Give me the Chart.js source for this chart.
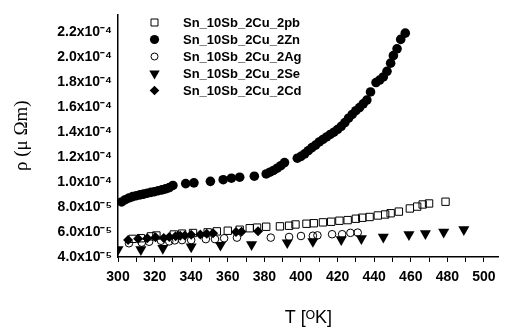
<!DOCTYPE html>
<html>
<head>
<meta charset="utf-8">
<script src="https://cdn.jsdelivr.net/npm/chart.js@4/dist/chart.umd.min.js"></script>
<style>
  html, body { margin: 0; padding: 0; background: #fff; }
  #wrap { width: 505px; height: 331px; position: relative; }
</style>
</head>
<body>
<div id="wrap"><canvas id="c" width="505" height="331"></canvas></div>
<script>
// ---- Data ----
const seriesNames = ['Sn_10Sb_2Cu_2pb', 'Sn_10Sb_2Cu_2Zn', 'Sn_10Sb_2Cu_2Ag', 'Sn_10Sb_2Cu_2Se', 'Sn_10Sb_2Cu_2Cd'];

const pbT = [308, 312.5, 318, 321, 330.5, 335, 341, 349, 354, 360, 366.5, 372, 376, 381, 388.5, 393.5, 397, 403, 407, 412, 416.5, 421, 425.5, 430, 433.5, 437.5, 442, 446, 449, 453.5, 459.5, 463.5, 466.5, 470, 479];
const pbR = [5.45e-5, 5.50e-5, 5.65e-5, 5.72e-5, 5.80e-5, 5.87e-5, 5.92e-5, 5.97e-5, 6.05e-5, 6.10e-5, 6.18e-5, 6.30e-5, 6.35e-5, 6.42e-5, 6.45e-5, 6.50e-5, 6.60e-5, 6.66e-5, 6.70e-5, 6.77e-5, 6.82e-5, 6.90e-5, 6.95e-5, 7.06e-5, 7.14e-5, 7.20e-5, 7.32e-5, 7.40e-5, 7.50e-5, 7.63e-5, 7.88e-5, 8.03e-5, 8.20e-5, 8.28e-5, 8.42e-5];

const znT = [302, 304, 306, 308, 310, 312, 314, 316, 318, 320, 322, 324, 326, 328, 330, 337, 341.5, 350.5, 357.5, 362, 366.5, 374.5, 381, 383, 385, 387, 389, 391, 398, 400, 402, 404, 406, 408, 410, 412, 414, 416, 418, 420, 422, 424, 426, 428, 430, 432, 434, 436, 438, 441, 443, 445, 447, 449, 450.5, 452.5, 454.5, 457];
const znR = [8.40e-5, 8.58e-5, 8.72e-5, 8.83e-5, 8.90e-5, 8.97e-5, 9.03e-5, 9.10e-5, 9.17e-5, 9.22e-5, 9.30e-5, 9.37e-5, 9.45e-5, 9.55e-5, 9.72e-5, 9.87e-5, 9.93e-5, 10.05e-5, 10.18e-5, 10.30e-5, 10.38e-5, 10.46e-5, 10.64e-5, 10.78e-5, 10.92e-5, 11.10e-5, 11.30e-5, 11.55e-5, 11.90e-5, 12.05e-5, 12.25e-5, 12.50e-5, 12.75e-5, 12.95e-5, 13.20e-5, 13.40e-5, 13.60e-5, 13.80e-5, 13.98e-5, 14.20e-5, 14.45e-5, 14.75e-5, 15.10e-5, 15.40e-5, 15.70e-5, 15.95e-5, 16.25e-5, 16.55e-5, 17.20e-5, 17.95e-5, 18.15e-5, 18.40e-5, 18.85e-5, 19.50e-5, 20.10e-5, 20.65e-5, 21.40e-5, 21.90e-5];

const agT = [306, 313, 317, 323.5, 328, 331, 335, 340, 348, 353, 358, 365, 383.5, 393.5, 400, 406.5, 409, 417, 422.5, 427, 431];
const agR = [5.10e-5, 5.15e-5, 5.22e-5, 5.30e-5, 5.25e-5, 5.33e-5, 5.35e-5, 5.35e-5, 5.43e-5, 5.43e-5, 5.50e-5, 5.55e-5, 5.55e-5, 5.60e-5, 5.68e-5, 5.70e-5, 5.73e-5, 5.82e-5, 5.82e-5, 5.93e-5, 5.95e-5];

const seT = [300, 312.5, 324.5, 340, 356, 373, 392.5, 406.5, 422, 433, 445, 459, 468, 478, 489];
const seR = [4.60e-5, 4.60e-5, 4.70e-5, 4.82e-5, 4.95e-5, 5.00e-5, 5.15e-5, 5.25e-5, 5.40e-5, 5.48e-5, 5.60e-5, 5.80e-5, 5.88e-5, 6.00e-5, 6.20e-5];

const cdT = [305.5, 311, 316, 320.5, 325, 328, 331.5, 334, 336.5, 340, 345, 348.5, 352, 364.5, 367.5, 376.5];
const cdR = [5.35e-5, 5.45e-5, 5.50e-5, 5.58e-5, 5.52e-5, 5.60e-5, 5.65e-5, 5.70e-5, 5.72e-5, 5.78e-5, 5.80e-5, 5.85e-5, 5.90e-5, 6.00e-5, 6.02e-5, 6.05e-5];

const xTickValues = [300, 310, 320, 330, 340, 350, 360, 370, 380, 390, 400, 410, 420, 430, 440, 450, 460, 470, 480, 490, 500];
const xTickLabels = ['300', '', '320', '', '340', '', '360', '', '380', '', '400', '', '420', '', '440', '', '460', '', '480', '', '500'];
const yTickValues = [4.0e-5, 6.0e-5, 8.0e-5, 1.0e-4, 1.2e-4, 1.4e-4, 1.6e-4, 1.8e-4, 2.0e-4, 2.2e-4];
const yTickLabels = ['4.0x10⁻⁵', '6.0x10⁻⁵', '8.0x10⁻⁵', '1.0x10⁻⁴', '1.2x10⁻⁴', '1.4x10⁻⁴', '1.6x10⁻⁴', '1.8x10⁻⁴', '2.0x10⁻⁴', '2.2x10⁻⁴'];
const xTitle = 'T [ᴼK]';
const yTitle = 'ρ (μ Ωm)';

// ---- Build chart ----
const pts = (xs, ys) => xs.map((x, i) => ({ x: x, y: ys[i] }));

const styles = [
  { pointStyle: 'rect', radius: 5.2, bg: 'rgba(0,0,0,0)', border: '#000', bw: 1, rot: 0 },
  { pointStyle: 'circle', radius: 4.8, bg: '#000', border: '#000', bw: 0, rot: 0 },
  { pointStyle: 'circle', radius: 3.8, bg: 'rgba(0,0,0,0)', border: '#000', bw: 1, rot: 0 },
  { pointStyle: 'triangle', radius: 6.4, bg: '#000', border: '#000', bw: 0, rot: 180 },
  { pointStyle: 'rectRot', radius: 5, bg: '#000', border: '#000', bw: 0, rot: 0 }
];
const seriesData = [pts(pbT, pbR), pts(znT, znR), pts(agT, agR), pts(seT, seR), pts(cdT, cdR)];

const datasets = seriesNames.map((name, i) => ({
  label: name,
  data: seriesData[i],
  showLine: false,
  pointStyle: styles[i].pointStyle,
  pointRadius: styles[i].radius,
  pointRotation: styles[i].rot,
  pointBackgroundColor: styles[i].bg,
  pointBorderColor: styles[i].border,
  pointBorderWidth: styles[i].bw,
  backgroundColor: styles[i].bg,
  borderColor: styles[i].border
}));

const legendInPlot = {
  id: 'legendInPlot',
  afterDraw(chart) {
    const ctx = chart.ctx;
    ctx.save();
    const mx = 154.5, tx = 183, y0 = 22.5, dy = 17;
    chart.data.datasets.forEach((ds, i) => {
      const y = y0 + i * dy;
      const st = styles[i];
      ctx.beginPath();
      ctx.lineWidth = 1;
      ctx.strokeStyle = '#000';
      ctx.fillStyle = '#000';
      if (st.pointStyle === 'rect') {
        ctx.rect(mx - 3.5, y - 3.5, 7, 7);
        ctx.fillStyle = '#fff'; ctx.fill(); ctx.stroke();
      } else if (st.pointStyle === 'circle' && st.bw === 0) {
        ctx.arc(mx, y, 4.6, 0, Math.PI * 2); ctx.fill();
      } else if (st.pointStyle === 'circle') {
        ctx.arc(mx, y, 3.5, 0, Math.PI * 2); ctx.fillStyle = '#fff'; ctx.fill(); ctx.stroke();
      } else if (st.pointStyle === 'triangle') {
        const r = 6;
        ctx.moveTo(mx - r * 0.866, y - r * 0.5);
        ctx.lineTo(mx + r * 0.866, y - r * 0.5);
        ctx.lineTo(mx, y + r);
        ctx.closePath(); ctx.fill();
      } else {
        const r = 4.8;
        ctx.moveTo(mx, y - r); ctx.lineTo(mx + r, y); ctx.lineTo(mx, y + r); ctx.lineTo(mx - r, y);
        ctx.closePath(); ctx.fill();
      }
      ctx.fillStyle = '#000';
      ctx.font = 'bold 13px "Liberation Sans", Arial, sans-serif';
      ctx.textBaseline = 'middle';
      ctx.textAlign = 'left';
      ctx.fillText(ds.label, tx, y + 0.5);
    });
    ctx.restore();
  }
};

Chart.defaults.font.family = '"Liberation Sans", Arial, sans-serif';
Chart.defaults.color = '#000';

new Chart(document.getElementById('c'), {
  type: 'scatter',
  data: { datasets: datasets },
  plugins: [legendInPlot],
  options: {
    responsive: false,
    animation: false,
    devicePixelRatio: 1,
    layout: { padding: { left: 0, top: 3, right: 0, bottom: 0 } },
    plugins: {
      legend: { display: false },
      tooltip: { enabled: false }
    },
    scales: {
      x: {
        type: 'linear',
        min: 300,
        max: 508,
        afterBuildTicks: s => { s.ticks = xTickValues.map(v => ({ value: v })); },
        afterFit: s => { s.height = 74; },
        ticks: {
          autoSkip: false,
          maxRotation: 0,
          padding: 7,
          font: { size: 14, weight: 'bold' },
          color: '#000',
          callback: (v, i) => xTickLabels[i]
        },
        grid: { drawOnChartArea: false, drawTicks: true, tickLength: 5, color: '#000', lineWidth: 1 },
        border: { color: '#000', width: 1.5 },
        title: {
          display: true,
          text: xTitle,
          font: { size: 18, weight: 'normal' },
          color: '#000',
          padding: { top: 0, bottom: 2 }
        }
      },
      y: {
        type: 'linear',
        min: 4.0e-5,
        max: 2.34e-4,
        afterBuildTicks: s => { s.ticks = yTickValues.map(v => ({ value: v })); },
        afterFit: s => { s.width = 118; },
        ticks: {
          padding: 6,
          font: { size: 14, weight: 'bold' },
          color: '#000',
          callback: (v, i) => yTickLabels[i]
        },
        grid: { drawOnChartArea: false, drawTicks: false, color: '#000' },
        border: { color: '#000', width: 1.5 },
        title: {
          display: true,
          text: yTitle,
          font: { size: 19, family: '"Liberation Serif", "Times New Roman", serif', weight: 'normal' },
          color: '#000',
          padding: { top: 11, bottom: 0 }
        }
      }
    }
  }
});
</script>
</body>
</html>
